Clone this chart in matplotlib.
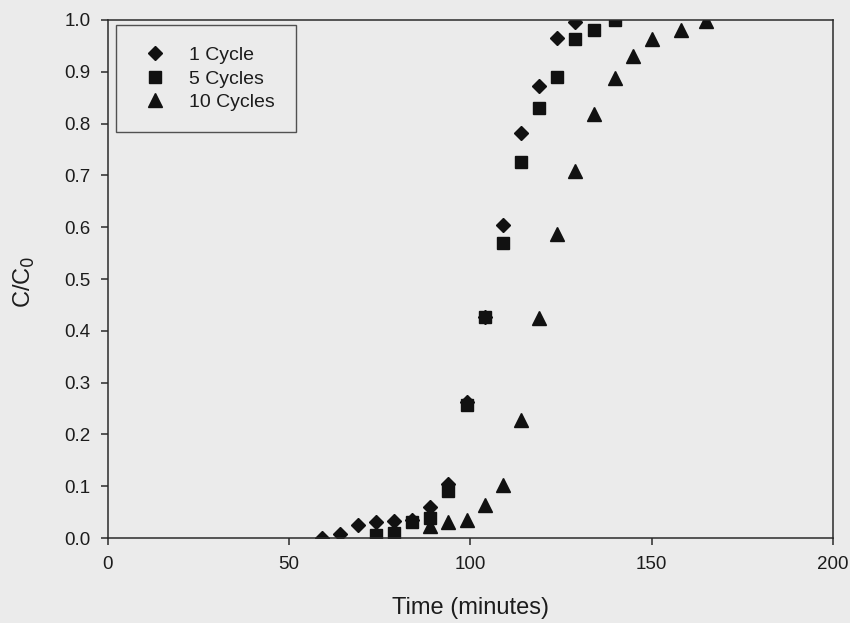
import matplotlib
matplotlib.use("Agg")
import matplotlib.pyplot as plt

# breakthrough data, C/C0 against time
t_1cycle = [59, 64, 69, 74, 79, 84, 89, 94, 99, 104, 109, 114, 119, 124, 129]
c_1cycle = [0.0, 0.008, 0.025, 0.03, 0.033, 0.035, 0.06, 0.105, 0.263, 0.426,
            0.604, 0.781, 0.872, 0.966, 0.997]

t_5cycles = [74, 79, 84, 89, 94, 99, 104, 109, 114, 119, 124, 129, 134, 140]
c_5cycles = [0.005, 0.01, 0.03, 0.038, 0.09, 0.256, 0.426, 0.57, 0.725, 0.831,
             0.89, 0.964, 0.981, 1.0]

t_10cycles = [89, 94, 99, 104, 109, 114, 119, 124, 129, 134, 140, 145, 150, 158, 165]
c_10cycles = [0.024, 0.031, 0.034, 0.063, 0.102, 0.228, 0.424, 0.586, 0.709,
              0.818, 0.888, 0.93, 0.964, 0.981, 0.998]

plt.rcParams["font.family"] = ["Liberation Sans", "DejaVu Sans"]

bg = "#ebebeb"
ink = "#1c1c1c"
fig = plt.figure(figsize=(8.5, 6.23), dpi=100, facecolor=bg)
ax = fig.add_axes([0.1265, 0.1364, 0.8535, 0.8315], facecolor=bg)

ax.plot(t_1cycle, c_1cycle, "D", color="#111111", markersize=7.5, label="1 Cycle",
        linestyle="none")
ax.plot(t_5cycles, c_5cycles, "s", color="#111111", markersize=8.5, label="5 Cycles",
        linestyle="none")
ax.plot(t_10cycles, c_10cycles, "^", color="#111111", markersize=10, label="10 Cycles",
        linestyle="none")

ax.set_xlim(0, 200)
ax.set_ylim(0, 1.0)
ax.set_xticks([0, 50, 100, 150, 200])
ax.set_yticks([i / 10 for i in range(11)])
ax.set_yticklabels([f"{i / 10:.1f}" for i in range(11)])

for s in ax.spines.values():
    s.set_linewidth(1.1)
    s.set_color("#2a2a2a")
ax.tick_params(direction="out", length=5, width=1.1, color="#2a2a2a",
               labelsize=13.5, labelcolor=ink)
ax.tick_params(axis="y", pad=7)
ax.tick_params(axis="x", pad=8)

ax.set_xlabel("Time (minutes)", fontsize=17, color=ink, va="center", ha="center")
ax.set_ylabel("C/C$_0$", fontsize=17, color=ink, va="center", ha="center")
ax.xaxis.set_label_coords(0.5, -0.136)
ax.yaxis.set_label_coords(-0.114, 0.495)

leg = ax.legend(loc="upper left", bbox_to_anchor=(0.0117, 0.99), fontsize=14,
                frameon=True, fancybox=False, edgecolor="#2a2a2a",
                borderpad=1.1, handletextpad=0.85, labelspacing=0.3,
                handlelength=1.8, borderaxespad=0)
leg.get_frame().set_facecolor(bg)
leg.get_frame().set_linewidth(1.0)
for txt in leg.get_texts():
    txt.set_color(ink)

fig.savefig("out.png", dpi=100, facecolor=bg)
